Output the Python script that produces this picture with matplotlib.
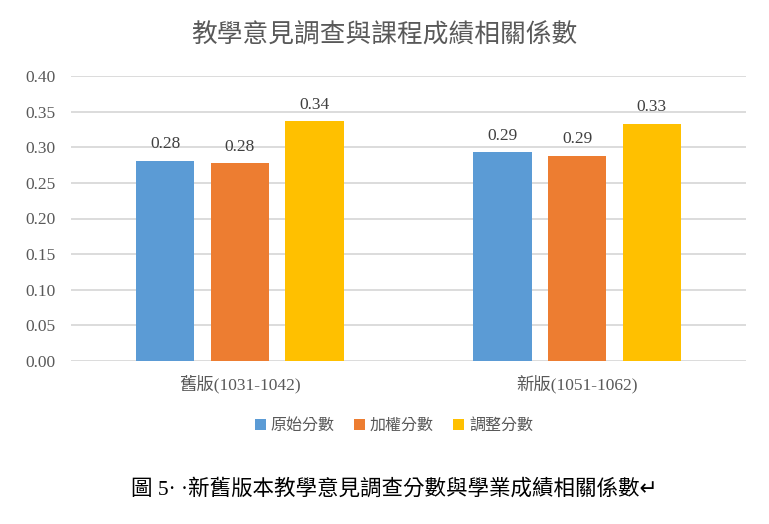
import matplotlib
matplotlib.use("Agg")
import matplotlib.pyplot as plt
import numpy as np

categories = ["舊版(1031-1042)", "新版(1051-1062)"]
series_names = ["原始分數", "加權分數", "調整分數"]
raw_scores = [0.281, 0.293]
weighted_scores = [0.278, 0.288]
adjusted_scores = [0.337, 0.333]
label_texts = [["0.28", "0.29"], ["0.28", "0.29"], ["0.34", "0.33"]]
yticks = [0.00, 0.05, 0.10, 0.15, 0.20, 0.25, 0.30, 0.35, 0.40]
title = "教學意見調查與課程成績相關係數"
caption = "圖 5· ·新舊版本教學意見調查分數與學業成績相關係數↵"

colors = ["#5B9BD5", "#ED7D31", "#FFC000"]
FAM = ["Liberation Serif", "Noto Sans CJK TC", "DejaVu Sans"]
plt.rcParams["font.family"] = FAM

fig = plt.figure(figsize=(7.69, 5.24), dpi=100)
ax = fig.add_axes([71/769, 1-361/524, 675/769, 285/524])

x = np.arange(len(categories))
width = 0.173
step = 0.221
all_series = [raw_scores, weighted_scores, adjusted_scores]
for i, (vals, name, col) in enumerate(zip(all_series, series_names, colors)):
    pos = x + (i - 1) * step
    bars = ax.bar(pos, vals, width, color=col, label=name, zorder=3)
    for b, t in zip(bars, label_texts[i]):
        ax.annotate(t, (b.get_x() + b.get_width()/2, b.get_height()),
                    xytext=(0, 6), textcoords="offset points",
                    ha="center", va="bottom", fontsize=12.5, color="#404040")

ax.set_xlim(-0.5, 1.5)
ax.set_ylim(0, 0.40)
ax.set_yticks(yticks)
ax.set_yticklabels([f"{v:.2f}" for v in yticks])
ax.set_xticks(x)
ax.set_xticklabels(categories)
ax.tick_params(axis="both", length=0, labelsize=12.5, colors="#595959")
ax.tick_params(axis="y", pad=11)
ax.tick_params(axis="x", pad=10)
ax.grid(axis="y", color="#D9D9D9", linewidth=1.3, zorder=0)
for s in ax.spines.values():
    s.set_visible(False)

fig.text(0.5, 1-35/524, title, ha="center", va="center", fontsize=18.5, color="#595959")

leg = fig.legend(loc="center", bbox_to_anchor=(394/769, 1-426/524), ncol=3,
                 frameon=False, fontsize=11.5, handlelength=0.7, handleheight=0.7,
                 handletextpad=0.3, columnspacing=1.2)
for t in leg.get_texts():
    t.set_color("#595959")

fig.text(394/769, 1-489/524, caption, ha="center", va="center", fontsize=15.5, color="black")

fig.savefig("out.png", dpi=100)
